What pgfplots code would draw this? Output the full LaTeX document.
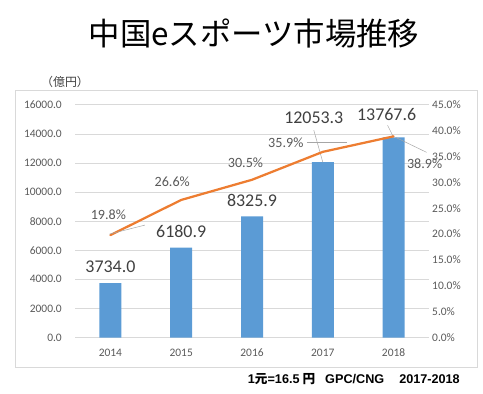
\documentclass[border=0pt]{standalone}
\usepackage{pgfplots}
\pgfplotsset{compat=1.18}
\usepackage{pgfplotstable}
\usepackage{fontspec}
\setmainfont{Carlito}
\newfontfamily\jp{Noto Sans CJK JP}
\newfontfamily\arial{Liberation Sans}
\definecolor{barblue}{HTML}{5B9BD5}
\definecolor{lineorange}{HTML}{ED7D31}
\definecolor{gridgray}{HTML}{D9D9D9}
\definecolor{ticktext}{HTML}{595959}
\definecolor{labeltext}{HTML}{404040}
\definecolor{leadergray}{HTML}{A6A6A6}

\pgfplotstableread{
x y dx dy
0 3734.0 0 16
1 6180.9 0 16
2 8325.9 0 16
3 12053.3 -9 44
4 13767.6 -7 23
}\marketdata
\pgfplotstableread{
x y dx dy
0 19.8 -2 20
1 26.6 -9 18
2 30.5 -6.5 17
3 35.9 -37 9
4 38.9 31 -27
}\growthdata

\begin{document}
\begin{tikzpicture}
\path[use as bounding box] (0,0) rectangle (483bp,394bp);
\draw[gridgray, line width=0.75bp] (15bp,27bp) rectangle (477bp,304bp);
\node[font=\jp\fontsize{31.5}{36}\selectfont, inner sep=0] at (254bp,360bp) {中国eスポーツ市場推移};
\node[font=\jp\fontsize{12}{14}\selectfont, text=labeltext, inner sep=0] at (65bp,312bp) {（億円）};
\node[anchor=east, font=\arial\bfseries\fontsize{12.7}{15}\selectfont, inner sep=0] at (460bp,15bp) {1{\jp\bfseries 元}=16.5\hspace{3bp}{\jp\bfseries 円}\hspace{10bp}GPC/CNG\hspace{15bp}2017-2018};

\begin{axis}[
  at={(75bp,56.5bp)}, anchor=south west,
  width=354bp, height=232.7bp, scale only axis,
  xmin=-0.5, xmax=4.5, ymin=0, ymax=16000,
  xtick={0,1,2,3,4}, xticklabels={2014,2015,2016,2017,2018},
  ytick={0,2000,...,16000}, scaled y ticks=false,
  ymajorgrids, grid style={gridgray, line width=0.75bp},
  axis line style={draw=none}, major tick length=0pt,
  tick label style={font=\fontsize{11.5}{13}\selectfont, text=ticktext},
  /pgf/number format/assume math mode=true,
  yticklabel={\pgfmathprintnumber[fixed,fixed zerofill,precision=1,1000 sep={}]{\tick}},
  yticklabel style={anchor=east, inner sep=0pt, xshift=-13bp},
  xticklabel style={anchor=center, inner sep=0pt, yshift=-15bp},
  clip=false,
]
\addplot[ybar, bar width=22bp, fill=barblue, draw=none,
  nodes near coords={\pgfmathprintnumber[fixed,fixed zerofill,precision=1,1000 sep={}]{\pgfplotspointmeta}},
  visualization depends on={\thisrow{dx} \as \dx},
  visualization depends on={\thisrow{dy} \as \dy},
  every node near coord/.append style={anchor=center, inner sep=0pt, xshift=\dx bp, yshift=\dy bp, font=\fontsize{18}{20}\selectfont, text=labeltext},
] table[x=x,y=y] {\marketdata};
\draw[leadergray, line width=0.5bp] (axis cs:3,12053.3) -- ++(-9bp,32bp);
\draw[leadergray, line width=0.5bp] (axis cs:4,13767.6) -- ++(-6bp,12bp);
\end{axis}

\begin{axis}[
  at={(75bp,56.5bp)}, anchor=south west,
  width=354bp, height=232.7bp, scale only axis,
  xmin=-0.5, xmax=4.5, ymin=0, ymax=45,
  axis y line*=right, axis x line=none,
  ytick={0,5,...,45},
  axis line style={draw=none}, major tick length=0pt,
  tick label style={font=\fontsize{11.5}{13}\selectfont, text=ticktext},
  /pgf/number format/assume math mode=true,
  yticklabel={\pgfmathprintnumber[fixed,fixed zerofill,precision=1]{\tick}\%},
  yticklabel style={anchor=west, inner sep=0pt, xshift=3bp},
  clip=false,
]
\addplot[lineorange, line width=2.25bp, line join=round, line cap=round, mark=none,
  nodes near coords={\pgfmathprintnumber[fixed,fixed zerofill,precision=1]{\pgfplotspointmeta}\%},
  visualization depends on={\thisrow{dx} \as \dx},
  visualization depends on={\thisrow{dy} \as \dy},
  every node near coord/.append style={anchor=center, inner sep=0pt, xshift=\dx bp, yshift=\dy bp, font=\fontsize{14.2}{16}\selectfont, text=ticktext},
] table[x=x,y=y] {\growthdata};
\draw[leadergray, line width=0.5bp] (axis cs:0,19.8) ++(-1bp,1bp) -- ++(0,9bp);
\draw[leadergray, line width=0.5bp] (axis cs:3,35.9) ++(-16bp,10bp) -- ++(5bp,0);
\draw[leadergray, line width=0.5bp] (axis cs:4,38.9) ++(2bp,-1bp) -- ++(31bp,-15bp);
\end{axis}
\end{tikzpicture}
\end{document}
